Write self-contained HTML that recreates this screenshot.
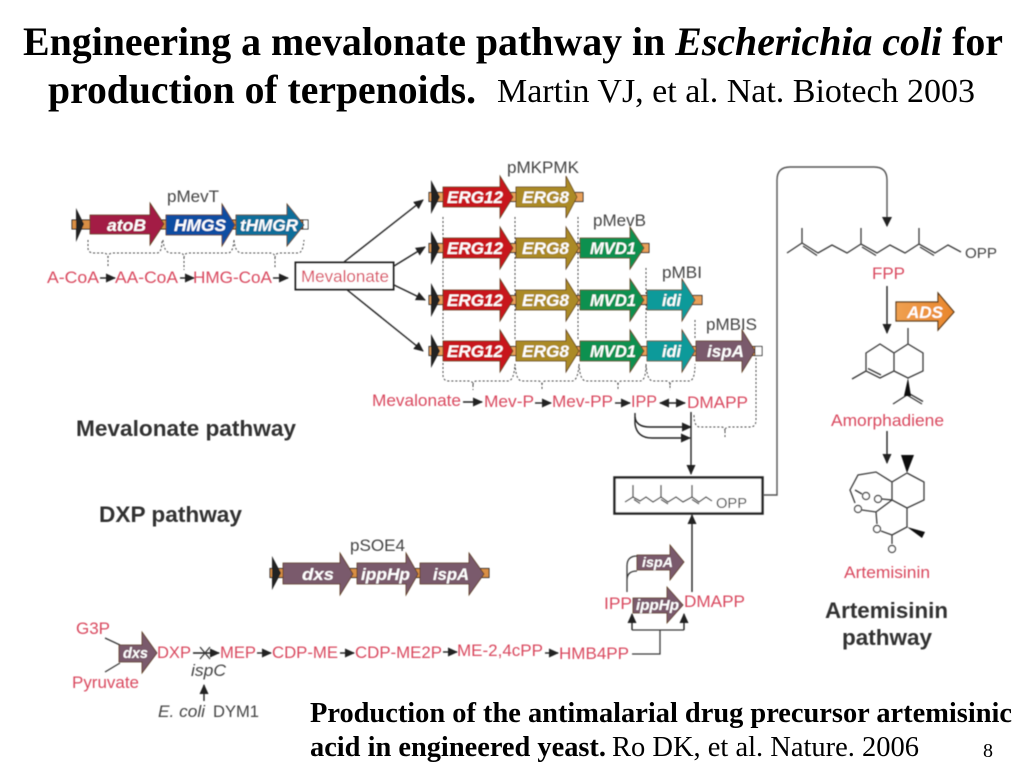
<!DOCTYPE html>
<html><head><meta charset="utf-8"><style>
html,body{margin:0;padding:0;background:#fff}
svg{display:block}
text{font-family:"Liberation Sans",sans-serif}
.t{font-family:"Liberation Serif",serif;fill:#000}
.r{fill:#d9485e;font-size:17px}
.k{fill:#444;font-size:17px}
.g{fill:#fff;font-weight:bold;font-style:italic;font-size:17px}
.h{fill:#333;font-weight:bold;font-size:22px}
.a{stroke:#222;stroke-width:1.4;fill:none;marker-end:url(#m)}
.d{stroke:#444;stroke-width:1;fill:none;stroke-dasharray:2 2}
.b{stroke:#3a3a3a;stroke-width:1.3;fill:none}
.o{stroke:#5a3a1a;stroke-width:.8}
</style></head><body>
<svg width="1024" height="768" viewBox="0 0 1024 768" xmlns="http://www.w3.org/2000/svg">
<defs>
<marker id="m" markerUnits="userSpaceOnUse" markerWidth="11" markerHeight="10" refX="9" refY="5" orient="auto"><path d="M0 0.5L10 5L0 9.5z" fill="#222"/></marker>
<marker id="ms" markerUnits="userSpaceOnUse" markerWidth="11" markerHeight="10" refX="1" refY="5" orient="auto"><path d="M10 0.5L0 5L10 9.5z" fill="#222"/></marker>
<linearGradient id="ad" x1="0" x2="1" y1="0" y2="0"><stop offset="0" stop-color="#f0a050"/><stop offset="1" stop-color="#e8862c"/></linearGradient>
<filter id="bl" filterUnits="userSpaceOnUse" x="0" y="130" width="1024" height="638"><feGaussianBlur stdDeviation="0.4"/></filter>
</defs>

<!-- Title -->
<text class="t" x="23" y="55" font-size="40" font-weight="bold" textLength="980" lengthAdjust="spacingAndGlyphs">Engineering a mevalonate pathway in <tspan font-style="italic">Escherichia coli</tspan> for</text>
<text class="t" x="48" y="103" font-size="40" font-weight="bold" textLength="428" lengthAdjust="spacingAndGlyphs">production of terpenoids.</text>
<text class="t" x="497" y="102" font-size="34" textLength="478" lengthAdjust="spacingAndGlyphs">Martin VJ, et al. Nat. Biotech 2003</text>

<g filter="url(#bl)">
<!-- pMevT -->
<text class="k" x="167" y="202" textLength="52" lengthAdjust="spacingAndGlyphs">pMevT</text>
<rect x="72" y="220" width="232" height="9" fill="#d98f45" stroke="#222" stroke-width="1"/>
<rect x="303" y="220" width="5" height="9" fill="#fff" stroke="#222"/>
<polygon points="76,208 84,224 76,242" fill="#222"/>
<polygon points="90,215 150,215 150,203 164,224 150,245 150,234 90,234" fill="#a31c44" class="o"/>
<polygon points="166,215 222,215 222,204 235,225 222,246 222,235 166,235" fill="#0b4ea2" class="o"/>
<polygon points="236,215 287,215 287,204 304,225 287,246 287,235 236,235" fill="#0d6e9a" class="o"/>
<text class="g" x="107" y="231" textLength="39" lengthAdjust="spacingAndGlyphs">atoB</text>
<text class="g" x="174" y="231" textLength="52" lengthAdjust="spacingAndGlyphs">HMGS</text>
<text class="g" x="240" y="231" textLength="58" lengthAdjust="spacingAndGlyphs">tHMGR</text>
<path class="d" d="M88 240V248Q88 253 94 253H103Q108 253 108 258V268M108 258Q108 253 113 253H157Q162 253 162 240"/>
<path class="d" d="M163 240Q164 253 171 253H180Q184 253 184 258V270M184 258Q184 253 189 253H228Q233 253 234 240"/>
<path class="d" d="M234 240Q235 253 242 253H270Q275 253 275 258V268M275 258Q275 253 280 253H298Q303 253 304 240"/>
<text class="r" x="47" y="283" textLength="52" lengthAdjust="spacingAndGlyphs">A-CoA</text>
<text class="r" x="115" y="283" textLength="63" lengthAdjust="spacingAndGlyphs">AA-CoA</text>
<text class="r" x="193" y="283" textLength="79" lengthAdjust="spacingAndGlyphs">HMG-CoA</text>
<line class="a" x1="100" y1="278" x2="115" y2="278"/>
<line class="a" x1="180" y1="278" x2="194" y2="278"/>
<line class="a" x1="273" y1="278" x2="288" y2="278"/>
<rect x="295.500" y="262.500" width="98" height="27" fill="#fff" stroke="#222" stroke-width="2"/>
<text class="r" x="301" y="282" textLength="88" lengthAdjust="spacingAndGlyphs">Mevalonate</text>
<line class="a" x1="344" y1="262" x2="423" y2="200"/>
<line class="a" x1="394" y1="266" x2="425" y2="247"/>
<line class="a" x1="394" y1="285" x2="425" y2="300"/>
<line class="a" x1="346" y1="289" x2="423" y2="351"/>

<!-- Dotted verticals -->
<path class="d" d="M443 217V340M515 217V340M578 217V340M646 268V340M695 320V340"/>

<!-- Row 1 -->
<g transform="translate(0,197)">
<rect x="429" y="-4.500" width="154" height="9" fill="#e9a05a" stroke="#222"/>
<polygon points="431,-17 440,0 431,17" fill="#222"/>
<polygon points="443,-10 500,-10 500,-21 513,0 500,21 500,10 443,10" fill="#c8141f" class="o"/>
<polygon points="516,-10 566,-10 566,-21 577,0 566,21 566,10 516,10" fill="#ab8a26" class="o"/>
<text class="g" x="447" y="6" textLength="56" lengthAdjust="spacingAndGlyphs">ERG12</text>
<text class="g" x="522" y="6" textLength="47" lengthAdjust="spacingAndGlyphs">ERG8</text>
</g>
<text class="k" x="507" y="173" textLength="72" lengthAdjust="spacingAndGlyphs">pMKPMK</text>

<!-- Row 2 -->
<g transform="translate(0,248)">
<rect x="429" y="-4.500" width="220" height="9" fill="#e9a05a" stroke="#222"/>
<polygon points="431,-17 440,0 431,17" fill="#222"/>
<polygon points="443,-10 500,-10 500,-21 513,0 500,21 500,10 443,10" fill="#c8141f" class="o"/>
<polygon points="516,-10 566,-10 566,-21 579,0 566,21 566,10 516,10" fill="#ab8a26" class="o"/>
<polygon points="580,-10 630,-10 630,-21 644,0 630,21 630,10 580,10" fill="#0a9050" class="o"/>
<text class="g" x="447" y="6" textLength="56" lengthAdjust="spacingAndGlyphs">ERG12</text>
<text class="g" x="522" y="6" textLength="47" lengthAdjust="spacingAndGlyphs">ERG8</text>
<text class="g" x="590" y="6" textLength="46" lengthAdjust="spacingAndGlyphs">MVD1</text>
</g>
<text class="k" x="593" y="226" textLength="53" lengthAdjust="spacingAndGlyphs">pMevB</text>

<!-- Row 3 -->
<g transform="translate(0,300)">
<rect x="429" y="-4.500" width="273" height="9" fill="#e9a05a" stroke="#222"/>
<polygon points="431,-17 440,0 431,17" fill="#222"/>
<polygon points="443,-10 500,-10 500,-21 513,0 500,21 500,10 443,10" fill="#c8141f" class="o"/>
<polygon points="516,-10 566,-10 566,-21 579,0 566,21 566,10 516,10" fill="#ab8a26" class="o"/>
<polygon points="580,-10 630,-10 630,-21 644,0 630,21 630,10 580,10" fill="#0a9050" class="o"/>
<polygon points="647,-10 682,-10 682,-21 695,0 682,21 682,10 647,10" fill="#0e9a9a" class="o"/>
<text class="g" x="447" y="6" textLength="56" lengthAdjust="spacingAndGlyphs">ERG12</text>
<text class="g" x="522" y="6" textLength="47" lengthAdjust="spacingAndGlyphs">ERG8</text>
<text class="g" x="590" y="6" textLength="46" lengthAdjust="spacingAndGlyphs">MVD1</text>
<text class="g" x="662" y="6" textLength="19" lengthAdjust="spacingAndGlyphs">idi</text>
</g>
<text class="k" x="662" y="278" textLength="40" lengthAdjust="spacingAndGlyphs">pMBI</text>

<!-- Row 4 -->
<g transform="translate(0,351)">
<rect x="429" y="-4.500" width="328" height="9" fill="#e9a05a" stroke="#222"/>
<rect x="755" y="-4.500" width="7" height="9" fill="#fff" stroke="#222"/>
<polygon points="431,-17 440,0 431,17" fill="#222"/>
<polygon points="443,-10 500,-10 500,-21 513,0 500,21 500,10 443,10" fill="#c8141f" class="o"/>
<polygon points="516,-10 566,-10 566,-21 579,0 566,21 566,10 516,10" fill="#ab8a26" class="o"/>
<polygon points="580,-10 630,-10 630,-21 644,0 630,21 630,10 580,10" fill="#0a9050" class="o"/>
<polygon points="647,-10 682,-10 682,-21 695,0 682,21 682,10 647,10" fill="#0e9a9a" class="o"/>
<polygon points="696,-10 742,-10 742,-21 755,0 742,21 742,10 696,10" fill="#7a5a6c" class="o"/>
<text class="g" x="447" y="6" textLength="56" lengthAdjust="spacingAndGlyphs">ERG12</text>
<text class="g" x="522" y="6" textLength="47" lengthAdjust="spacingAndGlyphs">ERG8</text>
<text class="g" x="590" y="6" textLength="46" lengthAdjust="spacingAndGlyphs">MVD1</text>
<text class="g" x="662" y="6" textLength="19" lengthAdjust="spacingAndGlyphs">idi</text>
<text class="g" x="707" y="6" textLength="37" lengthAdjust="spacingAndGlyphs">ispA</text>
</g>
<text class="k" x="706" y="330" textLength="51" lengthAdjust="spacingAndGlyphs">pMBIS</text>

<!-- Braces under row 4 -->
<path class="d" d="M443 363V375Q443 381 449 381H469Q473 381 473 385V390M473 385Q473 381 477 381H508Q514 381 515 364"/>
<path class="d" d="M515 364Q516 381 522 381H538Q542 381 542 385V390M542 385Q542 381 546 381H572Q578 381 579 364"/>
<path class="d" d="M579 364Q580 381 586 381H614Q618 381 618 385V390M618 385Q618 381 622 381H640Q646 381 646 364"/>
<path class="d" d="M646 364Q647 381 653 381H666Q670 381 670 385V390M670 385Q670 381 674 381H689Q695 381 695 364"/>
<path class="d" d="M756 358V420Q756 427 750 427H729Q725 427 725 431V437M725 431Q725 427 721 427H700Q694 427 694 415"/>

<!-- Mevalonate pathway labels -->
<text class="r" x="372" y="406" textLength="89" lengthAdjust="spacingAndGlyphs">Mevalonate</text>
<text class="r" x="484" y="407" textLength="50" lengthAdjust="spacingAndGlyphs">Mev-P</text>
<text class="r" x="552" y="407" textLength="61" lengthAdjust="spacingAndGlyphs">Mev-PP</text>
<text class="r" x="631" y="407" textLength="26" lengthAdjust="spacingAndGlyphs">IPP</text>
<text class="r" x="687" y="408" textLength="61" lengthAdjust="spacingAndGlyphs">DMAPP</text>
<line class="a" x1="463" y1="402" x2="482" y2="402"/>
<line class="a" x1="535" y1="403" x2="551" y2="403"/>
<line class="a" x1="615" y1="403" x2="630" y2="403"/>
<line class="a" x1="660" y1="403" x2="685" y2="403" marker-start="url(#ms)"/>
<path class="a" d="M635 413V417Q636 427 650 427H691"/>
<path class="a" d="M635 417V424Q637 438 652 438H690"/>
<line class="a" x1="691" y1="412" x2="691" y2="474"/>

<!-- FPP precursor box -->
<rect x="614.500" y="477.500" width="148" height="36" fill="#fff" stroke="#222" stroke-width="2.500"/>
<path class="b" d="M625 502L633 497L640 501L646 497L653 502L661 497L668 502L676 497L683 502L692 497L699 502L706 497L712 501M633 497V485M661 497V485M692 497V485M634 499.500L640 503.500M661 499.500L668 504M692 499.500L699 504"/>
<text class="k" x="716" y="508" style="font-size:15px" textLength="31" lengthAdjust="spacingAndGlyphs">OPP</text>

<!-- Long connector -->
<path d="M763 495H777V180Q777 167 790 167H874Q887 167 887 180V226" fill="none" stroke="#555" stroke-width="1.400"/>
<path d="M882 217H892L887 227z" fill="#222"/>

<!-- FPP -->
<path class="b" d="M787 253L802 243L818 253L832 245L847 253L861 244L877 253L890 245L905 253L919 244L935 253L948 245L961 252M802 243V228M861 244V228M919 244V228M803 246L817 255.500M862 247L876 255.500M920 247L934 255.500"/>
<text class="k" x="965" y="258" style="font-size:15px" textLength="32" lengthAdjust="spacingAndGlyphs">OPP</text>
<text class="r" x="872" y="279" textLength="33" lengthAdjust="spacingAndGlyphs">FPP</text>
<line class="a" x1="887" y1="286" x2="887" y2="333"/>
<polygon points="896,302 938,302 938,293 954,312 938,330 938,321 896,321" fill="url(#ad)" stroke="#5a3a1a" stroke-width="1.200"/>
<text class="g" x="907" y="318" textLength="36" lengthAdjust="spacingAndGlyphs">ADS</text>

<!-- Amorphadiene -->
<path class="b" d="M866 353L880 344L894 353V371L880 378L866 371ZM894 353L908 344L923 353V371L908 378L894 371M908 344V328M866 371L852 379M868 368.500L881 375M907 395L893 404M907 395L922 404M909 393.500L923 401.500"/>
<polygon points="908,378 904,396 911,396" fill="#111"/>
<text class="r" x="831" y="426" textLength="113" lengthAdjust="spacingAndGlyphs">Amorphadiene</text>
<line class="a" x1="887" y1="431" x2="887" y2="463"/>

<!-- Artemisinin -->
<path class="b" d="M907 473L924 482V500L907 508L892 500V482L907 473M892 482L876 472L858 475L850 490L855 503M892 500L882 499M892 500L876 512L862 510M876 512L877 524M881 531L892 535L907 527V508M892 535V544M855 490L862 494" stroke-width="1.500"/>
<polygon points="907,473 901,455 914,455" fill="#111"/>
<polygon points="907,527 925,532 922,538" fill="#111"/>
<circle cx="866" cy="496" r="3.500" fill="#fff" stroke="#333" stroke-width="1.200"/>
<circle cx="878" cy="499" r="3.500" fill="#fff" stroke="#333" stroke-width="1.200"/>
<circle cx="858" cy="509" r="3.500" fill="#fff" stroke="#333" stroke-width="1.200"/>
<circle cx="877" cy="529" r="3.500" fill="#fff" stroke="#333" stroke-width="1.200"/>
<circle cx="892" cy="549" r="3.500" fill="#fff" stroke="#333" stroke-width="1.200"/>
<text class="r" x="844" y="578" textLength="86" lengthAdjust="spacingAndGlyphs">Artemisinin</text>
<text class="h" x="825" y="618" textLength="123" lengthAdjust="spacingAndGlyphs">Artemisinin</text>
<text class="h" x="842" y="645" textLength="90" lengthAdjust="spacingAndGlyphs">pathway</text>

<text class="h" x="76" y="436" textLength="220" lengthAdjust="spacingAndGlyphs">Mevalonate pathway</text>
<text class="h" x="99" y="522" textLength="143" lengthAdjust="spacingAndGlyphs">DXP pathway</text>

<!-- pSOE4 -->
<text class="k" x="350" y="551" textLength="55" lengthAdjust="spacingAndGlyphs">pSOE4</text>
<rect x="270" y="568.500" width="219" height="9" fill="#d98f45" stroke="#222"/>
<polygon points="272,556 281,573 272,590" fill="#222"/>
<polygon points="283,563 340,563 340,553 353,574 340,595 340,584 283,584" fill="#7a5a6c" class="o"/>
<polygon points="357,563 406,563 406,553 418,574 406,595 406,584 357,584" fill="#7a5a6c" class="o"/>
<polygon points="420,563 469,563 469,553 484,574 469,595 469,584 420,584" fill="#7a5a6c" class="o"/>
<text class="g" x="302" y="580" textLength="32" lengthAdjust="spacingAndGlyphs">dxs</text>
<text class="g" x="361" y="580" textLength="49" lengthAdjust="spacingAndGlyphs">ippHp</text>
<text class="g" x="433" y="580" textLength="36" lengthAdjust="spacingAndGlyphs">ispA</text>

<!-- DXP pathway -->
<text class="r" x="76" y="634" textLength="34" lengthAdjust="spacingAndGlyphs">G3P</text>
<text class="r" x="72" y="688" textLength="67" lengthAdjust="spacingAndGlyphs">Pyruvate</text>
<path class="b" d="M105 638L120 645M105 672L120 663"/>
<polygon points="119,645 142,645 142,632 157,653 142,673 142,662 119,662" fill="#7a5a6c" class="o"/>
<text class="g" x="123" y="658" style="font-size:14.500px" textLength="25" lengthAdjust="spacingAndGlyphs">dxs</text>
<text class="r" x="157" y="658" textLength="34" lengthAdjust="spacingAndGlyphs">DXP</text>
<line class="a" x1="193" y1="653" x2="219" y2="653"/>
<path class="b" d="M200 647L210 659M210 647L200 659"/>
<text class="r" x="220" y="658" textLength="36" lengthAdjust="spacingAndGlyphs">MEP</text>
<line class="a" x1="257" y1="653" x2="271" y2="653"/>
<text class="r" x="272" y="658" textLength="66" lengthAdjust="spacingAndGlyphs">CDP-ME</text>
<line class="a" x1="340" y1="653" x2="354" y2="653"/>
<text class="r" x="355" y="658" textLength="87" lengthAdjust="spacingAndGlyphs">CDP-ME2P</text>
<line class="a" x1="443" y1="652" x2="457" y2="652"/>
<text class="r" x="457" y="656" textLength="86" lengthAdjust="spacingAndGlyphs">ME-2,4cPP</text>
<line class="a" x1="545" y1="653" x2="558" y2="653"/>
<text class="r" x="559" y="659" textLength="70" lengthAdjust="spacingAndGlyphs">HMB4PP</text>
<text class="k" x="191" y="676" font-style="italic" textLength="35" lengthAdjust="spacingAndGlyphs">ispC</text>
<line class="a" x1="204" y1="701" x2="204" y2="685"/>
<text class="k" x="158" y="717" font-style="italic" textLength="47" lengthAdjust="spacingAndGlyphs">E. coli</text>
<text class="k" x="213" y="717" textLength="46" lengthAdjust="spacingAndGlyphs">DYM1</text>

<path class="b" d="M632 654H660V630"/>
<path class="b" d="M632 630H684"/>
<line class="a" x1="632" y1="630" x2="632" y2="614"/>
<line class="a" x1="684" y1="630" x2="684" y2="614"/>
<polygon points="633,598 667,598 667,587 683,605 667,623 667,613 633,613" fill="#7a5a6c" class="o"/>
<text class="g" x="636" y="610" style="font-size:15px" textLength="43" lengthAdjust="spacingAndGlyphs">ippHp</text>
<polygon points="637,555 670,555 670,545 684,562 670,580 670,570 637,570" fill="#7a5a6c" class="o"/>
<text class="g" x="642" y="567" style="font-size:14px" textLength="31" lengthAdjust="spacingAndGlyphs">ispA</text>
<path class="b" d="M627 592V566Q627 556 637 556M627 580Q627 571 637 571"/>
<text class="r" x="604" y="609" textLength="28" lengthAdjust="spacingAndGlyphs">IPP</text>
<text class="r" x="684" y="607" textLength="61" lengthAdjust="spacingAndGlyphs">DMAPP</text>
<line class="a" x1="692" y1="592" x2="692" y2="515"/>
</g>

<!-- Footer -->
<text class="t" x="310" y="722" font-size="28" font-weight="bold" textLength="702" lengthAdjust="spacingAndGlyphs">Production of the antimalarial drug precursor artemisinic</text>
<text class="t" x="310" y="756" font-size="28" font-weight="bold" textLength="296" lengthAdjust="spacingAndGlyphs">acid in engineered yeast.</text>
<text class="t" x="612" y="756" font-size="28" textLength="307" lengthAdjust="spacingAndGlyphs">Ro DK, et al. Nature. 2006</text>
<text class="t" x="983" y="757" font-size="20">8</text>
</svg>
</body></html>
